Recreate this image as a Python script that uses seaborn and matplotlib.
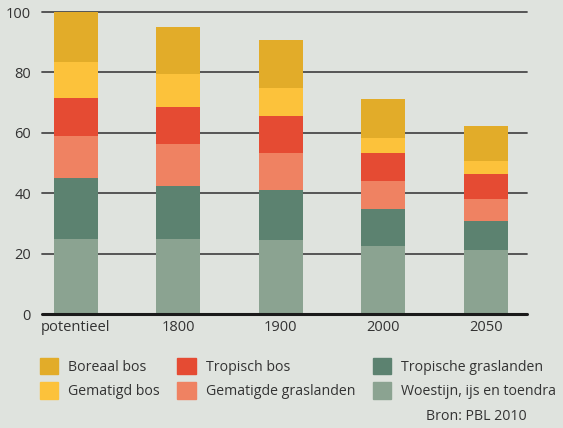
import numpy as np
import pandas as pd
import matplotlib.pyplot as plt
import seaborn as sns

# =========================
# Data
# =========================
periods = ["potentieel", "1800", "1900", "2000", "2050"]
woestijn = [25.0, 25.0, 24.4, 22.6, 21.3]
tropische_gras = [19.9, 17.4, 16.6, 12.3, 9.5]
gematigde_gras = [13.9, 13.8, 12.4, 9.1, 7.4]
tropisch_bos = [12.7, 12.4, 12.3, 9.4, 8.3]
gematigd_bos = [12.1, 10.9, 9.3, 4.9, 4.1]
boreaal_bos = [16.4, 15.5, 15.7, 13.0, 11.8]

series_names = ["Woestijn, ijs en toendra", "Tropische graslanden", "Gematigde graslanden",
                "Tropisch bos", "Gematigd bos", "Boreaal bos"]
series_vals = [woestijn, tropische_gras, gematigde_gras, tropisch_bos, gematigd_bos, boreaal_bos]
colors = ["#8ba391", "#5c8270", "#ef8262", "#e54b33", "#fcc23b", "#e2ac29"]

bg = "#dfe3de"

# cumulative totals, drawn from tallest to shortest so each layer covers the one above
cum = np.cumsum(np.array(series_vals), axis=0)

sns.set_style("white")
plt.rcParams['font.family'] = ['Open Sans', 'DejaVu Sans']

fig = plt.figure(figsize=(5.63, 4.28), dpi=100, facecolor=bg)
ax = fig.add_axes([42 / 563, (428 - 314) / 428, (527 - 42) / 563, (314 - 12) / 428])
ax.set_facecolor(bg)

for i in reversed(range(len(series_names))):
    df = pd.DataFrame({"periode": periods, "waarde": cum[i]})
    sns.barplot(data=df, x="periode", y="waarde", color=colors[i], width=0.43,
                saturation=1, ax=ax, zorder=3, linewidth=0)

ax.set_xlim(-0.33, 4.4)
ax.set_ylim(0, 100)
ax.set_yticks([0, 20, 40, 60, 80, 100])
for y in [20, 40, 60, 80, 100]:
    ax.axhline(y, color="#4a4a4a", lw=1.3, zorder=1, clip_on=False)
ax.axhline(0, color="#1a1a1a", lw=2.2, zorder=4, clip_on=False)

for s in ax.spines.values():
    s.set_visible(False)
ax.tick_params(axis="both", length=0, labelsize=10.5, colors="#333333")
ax.tick_params(axis="y", pad=8)
ax.tick_params(axis="x", pad=4)
ax.set_xlabel("")
ax.set_ylabel("")

# legend
order = [5, 4, 3, 2, 1, 0]
handles = [plt.Rectangle((0, 0), 1, 1, color=colors[i]) for i in order]
labels = [series_names[i] for i in order]
fig.legend(handles, labels, ncol=3, loc="upper left", bbox_to_anchor=(27 / 563, 1 - 345 / 428),
           frameon=False, fontsize=10.2, handlelength=1.3, handleheight=1.38,
           handletextpad=0.7, columnspacing=1.23, labelspacing=0.55,
           labelcolor="#333333")

fig.text(527 / 563, 1 - 416 / 428, "Bron: PBL 2010", ha="right", va="center",
         fontsize=10.2, color="#333333")

fig.savefig("out.png", dpi=100, facecolor=bg)
